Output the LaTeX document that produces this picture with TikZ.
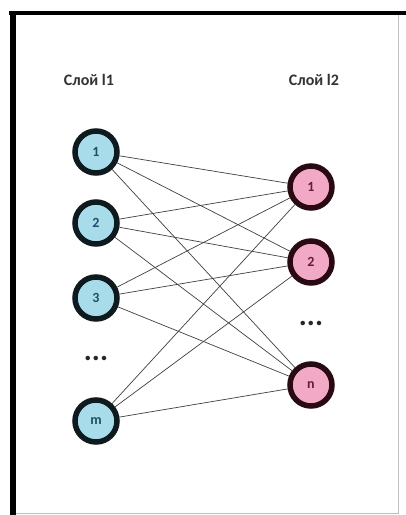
\documentclass[tikz,border=0pt]{standalone}
\usepackage{fontspec}
\setmainfont{Carlito}
\definecolor{nodeblue}{HTML}{A9DCEA}
\definecolor{nodepink}{HTML}{F2A9C6}
\definecolor{blueline}{HTML}{0E1A1E}
\definecolor{pinkline}{HTML}{2A0A12}
\definecolor{bluetext}{HTML}{1F4E66}
\definecolor{pinktext}{HTML}{6B1A33}
\tikzset{
  lnode/.style={circle, draw=blueline, fill=nodeblue, line width=5.5pt, minimum size=42pt, inner sep=0pt,
    font=\fontsize{14}{14}\selectfont\bfseries, text=bluetext},
  rnode/.style={circle, draw=pinkline, fill=nodepink, line width=5.5pt, minimum size=42pt, inner sep=0pt,
    font=\fontsize{14}{14}\selectfont\bfseries, text=pinktext},
  layerlabel/.style={font=\fontsize{16}{16}\selectfont\bfseries, text=black!80},
  dotsnode/.style={font=\fontsize{30}{30}\selectfont\bfseries, text=black!85},
  link/.style={draw=black!75, line width=0.7pt},
}
\begin{document}
\begin{tikzpicture}[x=1pt,y=-1pt]
\useasboundingbox (0,0) rectangle (406,515);
\fill[white] (0,0) rectangle (406,515);
% frame
\draw[black!25, line width=1pt] (398,13) -- (398,513) -- (12,513);
\draw[black, line width=4pt] (9,13) -- (406,13);
\draw[black, line width=6pt] (12.5,11) -- (12.5,515);
% labels
\node[layerlabel] (t1) at (89,80) {Слой l1};
\node[layerlabel] (t2) at (314,80) {Слой l2};
% left nodes
\node[lnode] (a1) at (96,152) {1};
\node[lnode] (a2) at (96,223) {2};
\node[lnode] (a3) at (96,298) {3};
\node[dotsnode] (ad) at (96,358) {...};
\node[lnode] (am) at (96,421) {m};
% right nodes
\node[rnode] (b1) at (311,187) {1};
\node[rnode] (b2) at (311,262) {2};
\node[dotsnode] (bd) at (311,323) {...};
\node[rnode] (bn) at (311,385) {n};
% links
\foreach \a in {a1,a2,a3,am}{
  \foreach \b in {b1,b2,bn}{
    \draw[link] (\a) -- (\b);
  }
}
\end{tikzpicture}
\end{document}
